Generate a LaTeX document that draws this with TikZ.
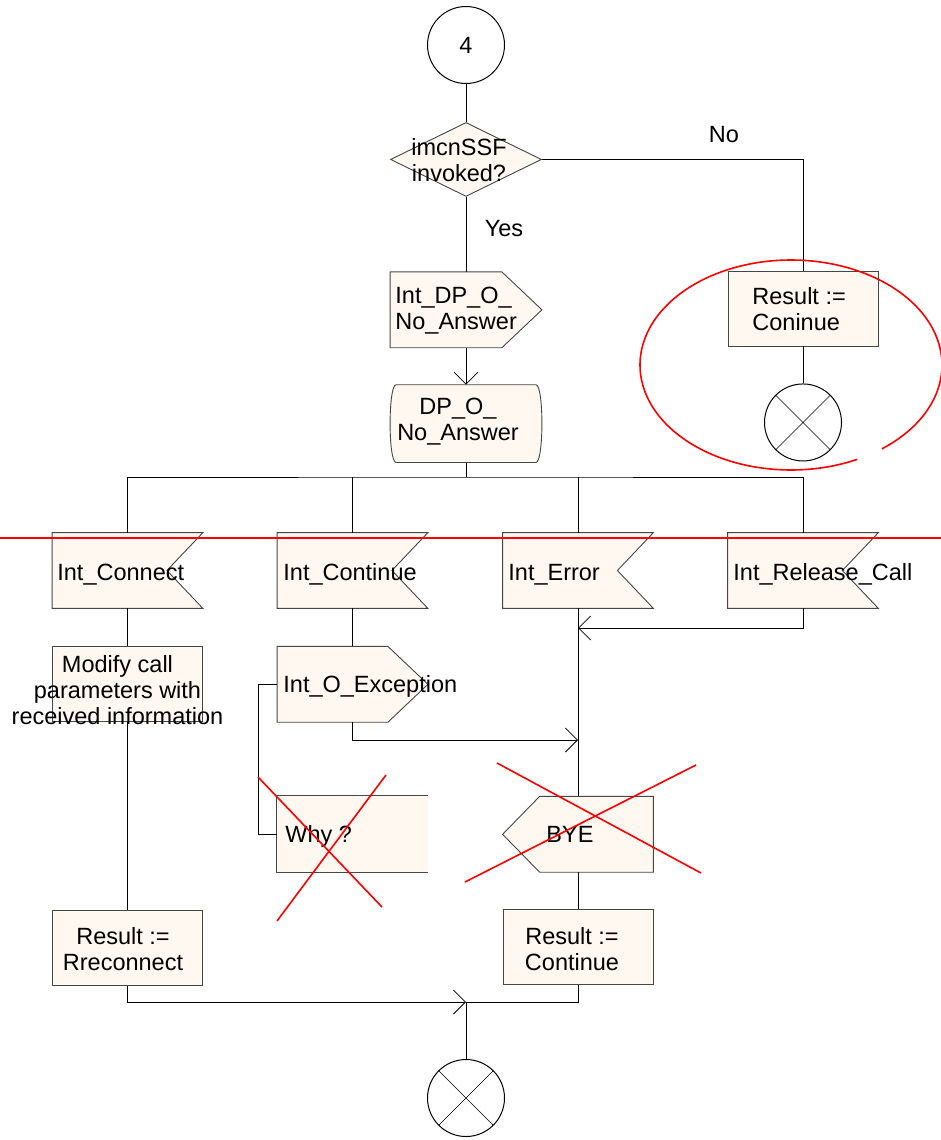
\documentclass[tikz,border=0pt]{standalone}
\usepackage{fontspec}
\setmainfont{Liberation Sans}
\usetikzlibrary{arrows.meta,positioning,shapes.geometric}

\definecolor{sdlfill}{RGB}{255,248,240}
\definecolor{sdlline}{RGB}{70,70,70}

\tikzset{
  txt/.style={inner sep=0pt, font=\fontsize{23.5}{26}\selectfont},
  shp/.style={draw=sdlline, fill=sdlfill, line width=0.9pt},
  frame/.style={rectangle, minimum width=150pt, minimum height=75pt, inner sep=0pt},
  box/.style={shp, frame},
  recv/.style={frame, append after command={\pgfextra{\draw[shp]
    (\tikzlastnode.north west) -- (\tikzlastnode.north east) -- ([xshift=-36pt]\tikzlastnode.east)
    -- (\tikzlastnode.south east) -- (\tikzlastnode.south west) -- cycle;}}},
  send/.style={frame, append after command={\pgfextra{\draw[shp]
    (\tikzlastnode.north west) -- ([xshift=-40pt]\tikzlastnode.north east) -- (\tikzlastnode.east)
    -- ([xshift=-40pt]\tikzlastnode.south east) -- (\tikzlastnode.south west) -- cycle;}}},
  sendl/.style={frame, append after command={\pgfextra{\draw[shp]
    ([xshift=37pt]\tikzlastnode.north west) -- (\tikzlastnode.north east) -- (\tikzlastnode.south east)
    -- ([xshift=37pt]\tikzlastnode.south west) -- (\tikzlastnode.west) -- cycle;}}},
  procbox/.style={rectangle, minimum width=151pt, minimum height=77pt, inner sep=0pt},
  dec/.style={shp, diamond, minimum width=151pt, minimum height=74pt, inner sep=0pt},
  connector/.style={circle, draw, line width=1pt, minimum size=77pt, inner sep=0pt, txt},
  stopx/.style={circle, draw, line width=1pt, minimum size=77pt, inner sep=0pt,
    path picture={\draw[line width=0.6pt]
      (path picture bounding box.north west) -- (path picture bounding box.south east)
      (path picture bounding box.north east) -- (path picture bounding box.south west);}},
  redx/.style={red, line width=1.6pt},
}

\begin{document}
\begin{tikzpicture}[x=1pt, y=-1pt, line width=0.8pt,
    >={Straight Barb[length=12pt,width=24pt]}]
  \useasboundingbox (0,0) rectangle (941,1140);

  % start and decision
  \node[connector] (c4)  at (466,45)           {4};
  \node[dec]       (inv) [below=38pt of c4]    {};
  \node[txt, align=center] (invt) at (459,160) {imcnSSF\\invoked?};
  \node[txt]       (no)  at (724,135)          {No};
  \node[txt]       (yes) at (504,229)          {Yes};

  \node[send, minimum width=151pt] (idp) [below=75pt of inv] {};
  \node[txt, align=left, anchor=west] (idpt) at (395,311) {Int\_DP\_O\_\\No\_Answer};
  \node[procbox]   (dpo) [below=37pt of idp]   {};
  \draw[shp] ([xshift=6pt]dpo.north west) -- ([xshift=-6pt]dpo.north east)
     .. controls ([xshift=2pt]dpo.north east) and ([xshift=2pt]dpo.south east) .. ([xshift=-6pt]dpo.south east)
     -- ([xshift=6pt]dpo.south west)
     .. controls ([xshift=-2pt]dpo.south west) and ([xshift=-2pt]dpo.north west) .. cycle;
  \node[txt, align=center] (dpot) at (458,422) {DP\_O\_\\No\_Answer};

  % "No" branch
  \node[box]   (rc) at (803,308.5)        {};
  \node[txt, align=left, anchor=west] (rct) at (752,309) {Result :=\\Coninue};
  \node[stopx] (tr) [below=37pt of rc]    {};

  % received signals
  \coordinate (br) at (466,477);
  \node[recv] (icn) at (127.5,570.5) {};
  \node[recv] (icu) at (352.5,570.5) {};
  \node[recv] (ier) at (578,570.5)   {};
  \node[recv] (irc) at (803,570.5)   {};
  \node[txt, anchor=base west] (icnt) at (57,580)  {Int\_Connect};
  \node[txt, anchor=base west] (icut) at (283,580) {Int\_Continue};
  \node[txt, anchor=base west] (iert) at (508,580) {Int\_Error};
  \node[txt, anchor=base west] (irct) at (733,580) {Int\_Release\_Call};

  % Int_Connect
  \node[box] (mod) [below=38pt of icn]  {};
  \node[txt, align=center] (modt) at (117.5,690) {Modify call\\parameters with\\received information};
  \node[box] (rr)  [below=188pt of mod] {};
  \node[txt, align=center] (rrt) at (123,949) {Result :=\\Rreconnect};

  % Int_Continue
  \node[send] (oex) [below=38pt of icu] {};
  \node[txt, anchor=base west] (oext) at (283,692) {Int\_O\_Exception};
  \node[frame, fill=sdlfill, minimum width=151pt, minimum height=76pt] (why) at (352.5,834) {};
  \draw[draw=sdlline, line width=0.9pt] (why.north east) -- (why.north west) -- (why.south west) -- (why.south east);
  \node[txt, anchor=base west] (whyt) at (285,842) {Why ?};

  % Int_Error
  \node[sendl] (bye) [below=188pt of ier] {};
  \node[txt, anchor=base west] (byet) at (546,842) {BYE};
  \node[box]   (rco) [below=37pt of bye]  {};
  \node[txt, align=center] (rcot) at (572,949) {Result :=\\Continue};

  \node[stopx] (tb) at (466,1098) {};

  \coordinate (m1) at (578,740);
  \coordinate (m2) at (578,628);
  \coordinate (m3) at (466,1002);

  % connectors
  \path (c4)  edge      (inv)
        (inv) edge      (idp)
        (idp) edge [->] (dpo)
        (dpo) edge      (br)
        (rc)  edge      (tr)
        (icn) edge      (mod)
        (mod) edge      (rr)
        (icu) edge      (oex)
        (ier) edge      (bye)
        (bye) edge      (rco)
        (m3)  edge      (tb);
  \draw (inv.east) -| (rc.north);
  \draw (icn.north) |- (br) -| (irc.north);
  \draw (icu.north) -- (icu.north |- br);
  \draw (ier.north) -- (ier.north |- br);
  \draw[->] (irc.south) |- (m2);
  \draw[->] (oex.south) |- (m1);
  \draw (oex.west) -- ++(-19,0) |- (why.west);
  \draw[->] (rr.south) |- (m3);
  \draw (rco.south) |- (m3);

  % red marks
  \draw[redx] (0,538) -- (941,538);
  \draw[redx] plot[domain=64:413, samples=120, smooth] ({791+151*cos(\x)}, {365+105*sin(\x)});
  \draw[redx] (258,777) -- (382,907);
  \draw[redx] (386,775) -- (277,921);
  \draw[redx] (497,763) -- (701,873);
  \draw[redx] (696,765) -- (465,882);
\end{tikzpicture}
\end{document}
